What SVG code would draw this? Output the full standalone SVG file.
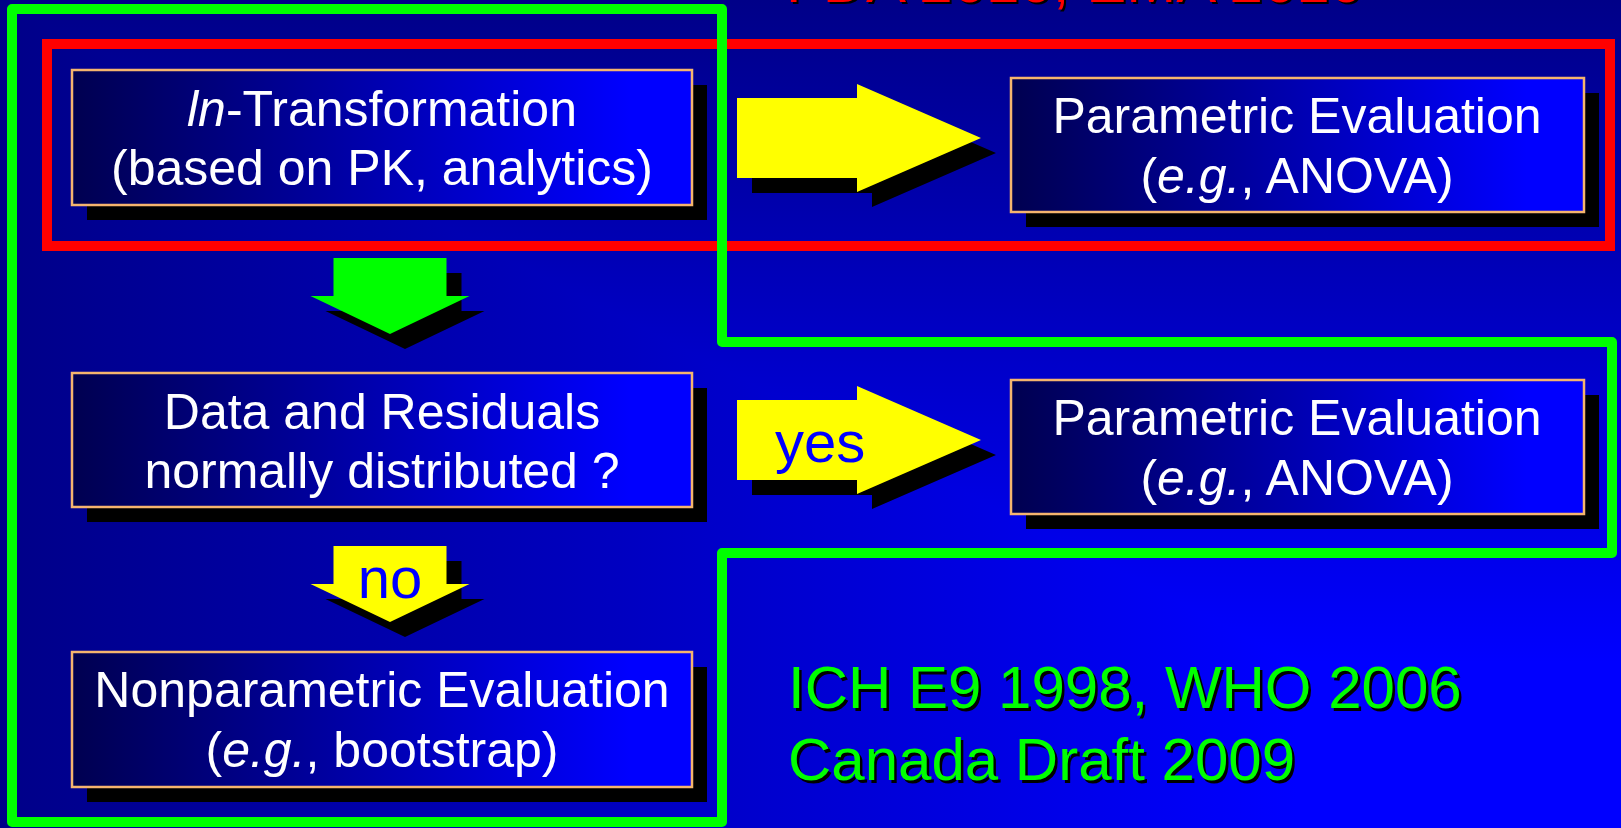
<svg xmlns="http://www.w3.org/2000/svg" width="1621" height="828" viewBox="0 0 1621 828">
<defs>
<linearGradient id="bgV" gradientUnits="userSpaceOnUse" x1="0" y1="0" x2="0" y2="828">
<stop offset="0" stop-color="#000088"/><stop offset="0.8" stop-color="#0000FF"/><stop offset="1" stop-color="#0000FF"/>
</linearGradient>
<linearGradient id="bgH" gradientUnits="userSpaceOnUse" x1="0" y1="0" x2="1621" y2="0">
<stop offset="0" stop-color="#000088"/><stop offset="0.8" stop-color="#0000FF"/><stop offset="1" stop-color="#0000FF"/>
</linearGradient>
<linearGradient id="boxG" x1="0" y1="0" x2="1" y2="0">
<stop offset="0" stop-color="#000050"/><stop offset="0.9" stop-color="#0000FF"/><stop offset="1" stop-color="#0000FF"/>
</linearGradient>
<path id="arrowR" d="M0,-40 H120 V-54 L244,0 L120,54 V40 H0 Z"/>
<path id="arrowD" d="M-56.5,0 H56.5 V38 H79.5 L0,76 L-79.5,38 H-56.5 Z"/>
</defs>
<style>
.box{fill:url(#boxG);stroke:#F5B56E;stroke-width:2.5}
.shadow{fill:#000}
.t{font-family:"Liberation Sans",Arial,sans-serif;font-size:50px;fill:#fff;text-anchor:middle}
.lbl{font-family:"Liberation Sans",Arial,sans-serif;font-size:58px;fill:#0000FF}
.big{font-family:"Liberation Sans",Arial,sans-serif;font-size:60px}
.yel{fill:#FFFF00}
.grn{fill:#00FF00}
</style>
<g id="background">
<rect x="0" y="0" width="1621" height="828" fill="url(#bgV)"/>
<polygon points="0,0 0,828 1621,828" fill="url(#bgH)"/>
</g>
<g id="title-red">
<text class="big" x="788" y="4" fill="#000">FDA 2010, EMA 2010</text>
<text class="big" x="786" y="2" fill="#FF0000">FDA 2010, EMA 2010</text>
</g>
<g id="region-red">
<rect x="47" y="44" width="1563" height="202" fill="none" stroke="#FF0000" stroke-width="10"/>
</g>
<g id="node-ln">
<rect class="shadow" x="87" y="85" width="620" height="135"/>
<rect class="box" x="72" y="70" width="620" height="135"/>
<text class="t" x="382" y="126"><tspan font-style="italic">ln</tspan>-Transformation</text>
<text class="t" x="382" y="185">(based on PK, analytics)</text>
</g>
<g id="node-normal">
<rect class="shadow" x="87" y="388" width="620" height="134"/>
<rect class="box" x="72" y="373" width="620" height="134"/>
<text class="t" x="382" y="429">Data and Residuals</text>
<text class="t" x="382" y="488">normally distributed ?</text>
</g>
<g id="node-nonparam">
<rect class="shadow" x="87" y="667" width="620" height="135"/>
<rect class="box" x="72" y="652" width="620" height="135"/>
<text class="t" x="382" y="707">Nonparametric Evaluation</text>
<text class="t" x="382" y="767">(<tspan font-style="italic">e.g.</tspan>, bootstrap)</text>
</g>
<g id="node-param1">
<rect class="shadow" x="1026" y="93" width="573" height="134"/>
<rect class="box" x="1011" y="78" width="573" height="134"/>
<text class="t" x="1297" y="133">Parametric Evaluation</text>
<text class="t" x="1297" y="193">(<tspan font-style="italic">e.g.</tspan>, ANOVA)</text>
</g>
<g id="node-param2">
<rect class="shadow" x="1026" y="395" width="573" height="134"/>
<rect class="box" x="1011" y="380" width="573" height="134"/>
<text class="t" x="1297" y="435">Parametric Evaluation</text>
<text class="t" x="1297" y="495">(<tspan font-style="italic">e.g.</tspan>, ANOVA)</text>
</g>
<g id="connectors">
<use href="#arrowR" class="shadow" transform="translate(752,153)"/>
<use href="#arrowR" class="yel" transform="translate(737,138)"/>
<use href="#arrowD" class="shadow" transform="translate(405,273)"/>
<use href="#arrowD" class="grn" transform="translate(390,258)"/>
<use href="#arrowR" class="shadow" transform="translate(752,455)"/>
<use href="#arrowR" class="yel" transform="translate(737,440)"/>
<text class="lbl" x="775" y="462">yes</text>
<use href="#arrowD" class="shadow" transform="translate(405,561)"/>
<use href="#arrowD" class="yel" transform="translate(390,546)"/>
<text class="lbl" x="390" y="598" text-anchor="middle">no</text>
</g>
<g id="region-green">
<path d="M12,9 H722 V342 H1612 V553 H722 V822 H12 Z" fill="none" stroke="#00FF00" stroke-width="10" stroke-linejoin="round"/>
</g>
<g id="note-green">
<text class="big" x="790.5" y="710.5" fill="#000">ICH E9 1998, WHO 2006</text>
<text class="big" x="788" y="708" fill="#00FF00">ICH E9 1998, WHO 2006</text>
<text class="big" x="790.5" y="782.5" fill="#000">Canada Draft 2009</text>
<text class="big" x="788" y="780" fill="#00FF00">Canada Draft 2009</text>
</g>
</svg>
